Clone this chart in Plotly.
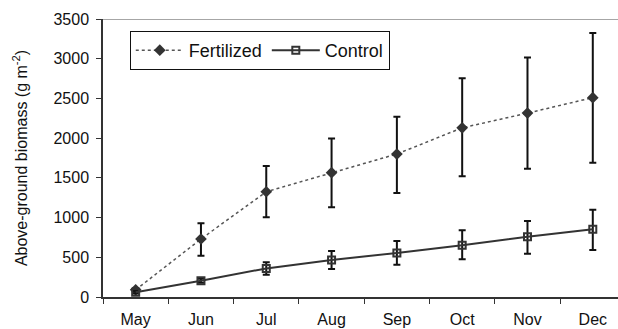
import plotly.graph_objects as go

months = ["May", "Jun", "Jul", "Aug", "Sep", "Oct", "Nov", "Dec"]
fert = [90, 730, 1325, 1565, 1800, 2130, 2315, 2510]
fert_up = [20, 200, 325, 430, 470, 625, 700, 815]
fert_dn = [20, 210, 320, 435, 490, 610, 700, 820]
ctrl = [60, 205, 360, 466, 555, 651, 759, 852]
ctrl_up = [15, 25, 77, 113, 150, 189, 198, 247]
ctrl_dn = [15, 25, 80, 114, 148, 176, 214, 260]

fig = go.Figure()
fig.add_trace(go.Scatter(
    x=months, y=fert, name="Fertilized", mode="lines+markers",
    line=dict(color="#555555", width=1.5, dash="dot"),
    marker=dict(symbol="diamond", size=9, color="#333333"),
    error_y=dict(type="data", symmetric=False, array=fert_up, arrayminus=fert_dn,
                 color="#111111", thickness=2, width=3.5),
))
fig.add_trace(go.Scatter(
    x=months, y=ctrl, name="Control", mode="lines+markers",
    line=dict(color="#333333", width=2),
    marker=dict(symbol="square-open", size=7, color="#333333", line=dict(width=2)),
    error_y=dict(type="data", symmetric=False, array=ctrl_up, arrayminus=ctrl_dn,
                 color="#111111", thickness=2, width=3.5),
))

font = "Liberation Sans, Arial, sans-serif"
fig.update_layout(
    width=618, height=329,
    margin=dict(l=103, r=0, t=19, b=32),
    paper_bgcolor="white", plot_bgcolor="white",
    font=dict(family=font, size=16, color="#111111"),
    showlegend=True,
    legend=dict(orientation="h", x=0.052, y=0.957, xanchor="left", yanchor="top",
                bordercolor="#111111", borderwidth=1, bgcolor="white",
                font=dict(size=18), itemwidth=48, tracegroupgap=0),
    xaxis=dict(type="category", range=[-0.5, 7.386], showgrid=False,
               showline=True, linecolor="#333333", linewidth=1.5,
               ticks="outside", tickson="boundaries", ticklen=5, tickcolor="#333333",
               tickfont=dict(size=16), ticklabelstandoff=7),
    yaxis=dict(range=[0, 3500], dtick=500, showgrid=False, zeroline=False,
               showline=True, linecolor="#333333", linewidth=1.5,
               ticks="outside", ticklen=5, tickcolor="#333333",
               tickfont=dict(size=16), ticklabelstandoff=4,
               title=dict(text="Above-ground biomass (g m<sup>-2</sup>)", font=dict(size=16), standoff=22)),
    shapes=[dict(type="line", xref="paper", yref="y", x0=0, x1=1, y0=3500, y1=3500,
                 line=dict(color="#888888", width=1.5))],
)

fig.write_html("out.html")
